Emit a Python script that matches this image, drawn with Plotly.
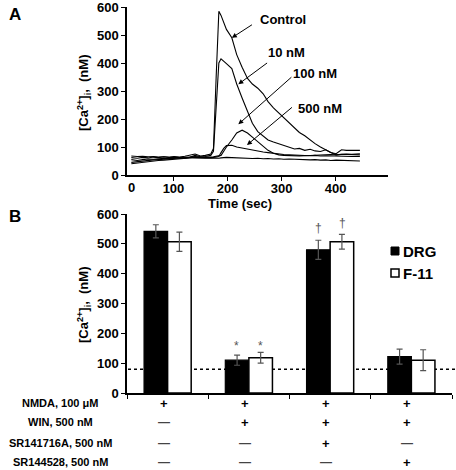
import plotly.graph_objects as go

# ---------- Panel A data ----------
time_s = [22, 33, 43, 53, 63, 72, 82, 92, 101, 111, 121, 130, 140, 150, 159, 169, 174, 179,
          184, 188, 193, 198, 208, 217, 227, 237, 246, 256, 266, 275, 285, 295, 304, 314,
          324, 333, 343, 353, 362, 372, 382, 391, 401, 411, 420, 430, 445]

ctrl = [62, 60, 63, 61, 64, 62, 65, 63, 66, 64, 67, 72, 75, 68, 70, 75, 95, 350,
        585, 570, 545, 520, 490, 430, 385, 345, 325, 310, 290, 262, 240, 222, 205, 188,
        168, 152, 140, 125, 112, 100, 90, 80, 76, 90, 88, 89, 88]
nm10 = [55, 52, 55, 57, 56, 58, 60, 59, 61, 62, 60, 63, 70, 65, 66, 70, 85, 250,
        400, 415, 405, 398, 380, 325, 275, 225, 185, 155, 138, 125, 118, 112, 105, 98,
        93, 95, 88, 92, 86, 84, 90, 80, 72, 74, 73, 72, 72]
nm100 = [45, 48, 50, 52, 54, 55, 57, 58, 60, 61, 62, 64, 66, 64, 63, 64, 65, 66,
         67, 70, 85, 100, 125, 150, 160, 150, 135, 118, 100, 88, 78, 72, 70, 69,
         70, 68, 69, 70, 71, 70, 72, 73, 72, 74, 75, 74, 76]
nm500 = [40, 43, 46, 48, 50, 52, 53, 55, 57, 58, 60, 61, 63, 62, 61, 62, 63, 64,
         66, 80, 95, 105, 106, 100, 96, 92, 88, 86, 82, 80, 77, 75, 73, 72,
         71, 70, 70, 69, 70, 68, 69, 68, 67, 68, 67, 66, 66]
flat = [68, 66, 67, 65, 66, 64, 65, 63, 64, 62, 63, 62, 61, 62, 60, 61, 60, 61,
        60, 61, 62, 63, 62, 61, 60, 61, 59, 60, 58, 59, 57, 58, 56, 57,
        56, 55, 56, 54, 55, 53, 54, 52, 53, 52, 51, 52, 50]

a_labels = ["Control", "10 nM", "100 nM", "500 nM"]
a_label_pos = [(303, 557), (310, 436), (362, 362), (372, 239)]
a_arrow_tail = [(248, 540), (276, 404), (321, 354), (322, 246)]
a_arrow_tip = [(208, 490), (220, 324), (220, 181), (236, 107)]

# ---------- Panel B data ----------
groups = [0, 1, 2, 3]
drg = [542, 110, 480, 122]
drg_err = [22, 17, 32, 25]
f11 = [507, 118, 507, 110]
f11_err = [32, 18, 25, 35]
baseline_b = 80
sig_marks = [("*", 1, 158, 158), ("†", 2, 553, 570)]
legend_names = ["DRG", "F-11"]

cond_labels = ["NMDA, 100 μM", "WIN, 500 nM", "SR141716A, 500 nM", "SR144528, 500 nM"]
cond_table = [["+", "+", "+", "+"],
              ["—", "+", "+", "+"],
              ["—", "—", "+", "—"],
              ["—", "—", "—", "+"]]

FONT = "Liberation Sans, Arial, sans-serif"
BF = dict(family=FONT, size=13, color="black", weight="bold")

fig = go.Figure()
for ys in [ctrl, nm10, nm100, nm500, flat]:
    fig.add_trace(go.Scatter(x=time_s, y=ys, mode="lines", line=dict(color="black", width=1.1),
                             showlegend=False, xaxis="x", yaxis="y"))

fig.add_trace(go.Bar(x=groups, y=drg, name=legend_names[0], marker=dict(color="black", line=dict(color="black", width=1.2)),
                     error_y=dict(type="data", array=drg_err, color="#555", thickness=1.2, width=3),
                     xaxis="x2", yaxis="y2", showlegend=False))
fig.add_trace(go.Bar(x=groups, y=f11, name=legend_names[1], marker=dict(color="white", line=dict(color="black", width=1.5)),
                     error_y=dict(type="data", array=f11_err, color="#555", thickness=1.2, width=3),
                     xaxis="x2", yaxis="y2", showlegend=False))

axis_common = dict(showline=True, linecolor="black", linewidth=1.5, ticks="outside", ticklen=4,
                   tickcolor="black", tickwidth=1.2, showgrid=False, zeroline=False, tickfont=BF,
                   automargin=False, ticklabeloverflow="allow")

fig.update_layout(
    width=456, height=470, margin=dict(l=0, r=0, t=0, b=0, pad=0),
    paper_bgcolor="white", plot_bgcolor="white",
    barmode="group", bargap=0.42, bargroupgap=0,
    xaxis=dict(domain=[127/456, 388/456], range=[14, 497], tickvals=[100, 200, 300, 400], anchor="y",
               ticklabelstandoff=-3, **axis_common),
    yaxis=dict(domain=[1-175/470, 1-7/470], range=[0, 600], tickvals=[0, 100, 200, 300, 400, 500, 600], anchor="x", **axis_common),
    xaxis2=dict(domain=[127/456, 452/456], range=[-0.5, 3.5], tickvals=[-0.5, 0.5, 1.5, 2.5, 3.5],
                showticklabels=False, anchor="y2", **axis_common),
    yaxis2=dict(domain=[1-393/470, 1-214/470], range=[0, 600], tickvals=[0, 100, 200, 300, 400, 500, 600], anchor="x2", **axis_common),
    showlegend=False,
)

fig.add_shape(type="line", xref="paper", yref="y2", x0=128/456, x1=1, y0=baseline_b, y1=baseline_b,
              line=dict(color="black", width=1.5, dash="dot"), layer="below")

# legend swatches
fig.add_shape(type="rect", xref="paper", yref="paper", x0=391/456, x1=399/456, y0=1-255/470, y1=1-247/470,
              fillcolor="black", line=dict(color="black", width=1))
fig.add_shape(type="rect", xref="paper", yref="paper", x0=391/456, x1=399/456, y0=1-277/470, y1=1-269/470,
              fillcolor="white", line=dict(color="black", width=1.5))

ann = []
def A(**kw):
    kw.setdefault("showarrow", False)
    kw.setdefault("yanchor", "middle")
    ann.append(kw)

# panel letters
A(text="A", x=7/456, y=1-14/470, xref="paper", yref="paper", font=dict(family=FONT, size=17, color="black", weight="bold"))
A(text="B", x=7/456, y=1-216/470, xref="paper", yref="paper", font=dict(family=FONT, size=17, color="black", weight="bold"))
# axis titles
ytitle = "[Ca<sup>2+</sup>]<sub>i</sub>,  (nM)"
A(text=ytitle, x=73/456, y=1-93/470, xref="paper", yref="paper", textangle=-90, font=BF)
A(text=ytitle, x=73/456, y=1-305/470, xref="paper", yref="paper", textangle=-90, font=BF)
A(text="Time (sec)", x=240/456, y=1-203/470, xref="paper", yref="paper", font=BF)
A(text="0", x=126/456, y=1-187/470, xref="paper", yref="paper", font=BF)
# legend text
A(text=legend_names[0], x=401/456, y=1-251/470, xref="paper", yref="paper", xanchor="left",
  font=dict(family=FONT, size=15, color="black", weight="bold"))
A(text=legend_names[1], x=401/456, y=1-273/470, xref="paper", yref="paper", xanchor="left",
  font=dict(family=FONT, size=15, color="black", weight="bold"))
# panel A labels and arrows
for lab, (lx, ly), (tx, ty), (hx, hy) in zip(a_labels, a_label_pos, a_arrow_tail, a_arrow_tip):
    A(text=lab, x=lx, y=ly, xref="x", yref="y", font=BF)
    ann.append(dict(text="", x=hx, y=hy, ax=tx, ay=ty, xref="x", yref="y", axref="x", ayref="y",
                    showarrow=True, arrowhead=2, arrowsize=1, arrowwidth=1, arrowcolor="black"))
# significance marks
for sym, g, yd, yf in sig_marks:
    A(text=sym, x=g-0.148, y=yd, xref="x2", yref="y2", font=dict(family=FONT, size=12, color="#555"))
    A(text=sym, x=g+0.148, y=yf, xref="x2", yref="y2", font=dict(family=FONT, size=12, color="#555"))
# condition table
row_y = [403, 422, 443, 462]
for r, (lab, row) in enumerate(zip(cond_labels, cond_table)):
    A(text=lab, x=60/456, y=1-row_y[r]/470, xref="paper", yref="paper", xanchor="center",
      font=dict(family=FONT, size=11, color="black", weight="bold"))
    for g, sym in zip(groups, row):
        A(text=sym, x=g-0.05, y=1-row_y[r]/470, xref="x2", yref="paper",
          font=dict(family=FONT, size=13 if sym == "+" else 12, color="black" if sym == "+" else "#444", weight="bold"))
fig.update_layout(annotations=ann)

fig.write_html("out.html", config={"displayModeBar": False},
               post_script="document.body.style.margin='0';document.body.style.padding='0';")
